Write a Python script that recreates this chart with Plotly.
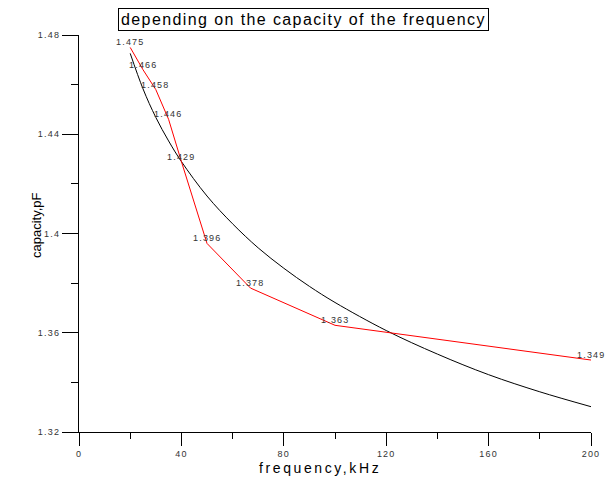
import plotly.graph_objects as go

# Measured data (red polyline with value labels)
freq_meas = [20, 25, 30, 35, 40, 50, 67, 100, 200]
cap_meas = [1.475, 1.466, 1.458, 1.446, 1.429, 1.396, 1.378, 1.363, 1.349]
cap_labels = ["1.475", "1.466", "1.458", "1.446", "1.429", "1.396", "1.378", "1.363", "1.349"]

# Smooth fitted curve (black)
freq_fit = [20, 25, 30, 35, 40, 50, 60, 70, 80, 90, 100, 120, 140, 160, 180, 200]
cap_fit = [1.4726, 1.4583, 1.4468, 1.4373, 1.4290, 1.4151, 1.4039, 1.3942, 1.3860,
           1.3787, 1.3722, 1.3609, 1.3514, 1.3431, 1.3362, 1.3302]

x_ticks = [0, 40, 80, 120, 160, 200]
x_tick_text = ["0", "40", "80", "120", "160", "200"]
y_ticks = [1.32, 1.36, 1.40, 1.44, 1.48]
y_tick_text = ["1.32", "1.36", "1.4", "1.44", "1.48"]

FONT = "Liberation Sans, Arial, sans-serif"


def spaced(txt, px):
    return '<span style="letter-spacing:%spx">%s</span>' % (px, txt)


fig = go.Figure()
fig.add_trace(go.Scatter(x=freq_fit, y=cap_fit, mode="lines", line=dict(color="black", width=1, shape="spline"),
                         hoverinfo="skip", showlegend=False))
fig.add_trace(go.Scatter(x=freq_meas, y=cap_meas, mode="lines", line=dict(color="#ff0000", width=1),
                         showlegend=False))

annotations = []
for fx, cy, lbl in zip(freq_meas, cap_meas, cap_labels):
    annotations.append(dict(x=fx, y=cy, xref="x", yref="y", text=spaced(lbl, 1.2), showarrow=False,
                            yshift=5, font=dict(family=FONT, size=9, color="#333333")))

annotations.append(dict(x=0.4385, y=1.039, xref="paper", yref="paper",
                        text=spaced("depending on the capacity of the frequency", 1.4), showarrow=False,
                        xanchor="center", yanchor="middle", bordercolor="black", borderwidth=1,
                        borderpad=2, bgcolor="white",
                        font=dict(family=FONT, size=16, color="black")))
annotations.append(dict(x=(320 - 79) / 512, y=(432 - 468) / 397, xref="paper", yref="paper",
                        text=spaced("frequency,kHz", 2.6), showarrow=False, xanchor="center", yanchor="middle",
                        font=dict(family=FONT, size=14, color="black")))
annotations.append(dict(x=(36 - 79) / 512, y=(432 - 225) / 397, xref="paper", yref="paper",
                        text="capacity,pF", showarrow=False, xanchor="center", yanchor="middle",
                        textangle=-90, font=dict(family=FONT, size=13, color="black")))

fig.update_layout(
    width=605, height=485,
    margin=dict(l=79, r=14, t=35, b=53, autoexpand=False),
    paper_bgcolor="white", plot_bgcolor="white",
    annotations=annotations,
    xaxis=dict(range=[0, 200], tickvals=x_ticks, ticktext=[spaced(t, 1.2) for t in x_tick_text],
               automargin=False,
               showgrid=False, zeroline=False, showline=True, linecolor="black", linewidth=1,
               ticks="outside", ticklen=13, tickcolor="black", tickwidth=1,
               tickfont=dict(family=FONT, size=9, color="#333333"),
               minor=dict(tickvals=[20, 60, 100, 140, 180], ticks="outside", ticklen=6,
                          tickcolor="black", showgrid=False)),
    yaxis=dict(range=[1.32, 1.48], tickvals=y_ticks, ticktext=[spaced(t, 1.2) for t in y_tick_text],
               automargin=False,
               showgrid=False, zeroline=False, showline=True, linecolor="black", linewidth=1,
               ticks="outside", ticklen=16, tickcolor="black", tickwidth=1,
               tickfont=dict(family=FONT, size=9, color="#333333"),
               minor=dict(tickvals=[1.34, 1.38, 1.42, 1.46], ticks="outside", ticklen=7,
                          tickcolor="black", showgrid=False)),
)

fig.write_html("out.html")
